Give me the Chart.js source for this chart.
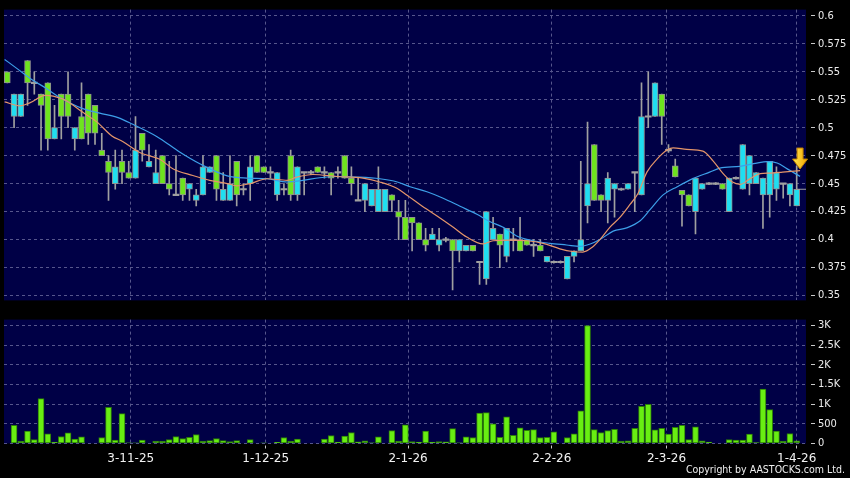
<!DOCTYPE html>
<html>
<head>
<meta charset="utf-8">
<script src="https://cdn.jsdelivr.net/npm/chart.js@4.4.1/dist/chart.umd.min.js"></script>
<style>
html, body { margin: 0; padding: 0; background: #000; }
#wrap { position: relative; width: 850px; height: 478px; background: #000; overflow: hidden; }
#price { position: absolute; left: 0; top: 0; }
#vol { position: absolute; left: 0; top: 310px; }
#copy { position: absolute; right: 5px; top: 463px; color: #eee; line-height: 14px;
        font: 10.5px "DejaVu Sans Condensed", "DejaVu Sans", sans-serif; }
</style>
</head>
<body>
<div id="wrap">
  <canvas id="price" width="850" height="310"></canvas>
  <canvas id="vol" width="850" height="168"></canvas>
  <div id="copy">Copyright by AASTOCKS.com Ltd.</div>
</div>
<script>
// daily candles (index 0 = first candle on the left)
const open = [
  .55, .51, .51, .56, .54, .53, .54, .49, .53, .53,
  .49, .51, .53, .52, .48, .47, .45, .47, .46, .455,
  .495, .465, .45, .475, .45, .44, .455, .445, .435, .44,
  .46, .475, .435, .435, .47, .445, .45, .475, .465, .46,
  .44, .445, .475, .44, .46, .46, .465, .46, .46, .46,
  .475, .455, .435, .435, .43, .425, .425, .44, .425, .42,
  .42, .415, .40, .40, .395, .40, .40, .39, .39, .395,
  .38, .365, .40, .405, .385, .40, .40, .40, .395, .395,
  .38, .38, .38, .365, .385, .39, .43, .485, .44, .435,
  .445, .445, .445, .46, .44, .51, .51, .53, .48, .466,
  .444, .44, .425, .445, .45, .45, .45, .425, .455, .445,
  .45, .45, .44, .44, .445, .45, .44, .43
];
const close = [
  .54, .53, .53, .54, .54, .52, .49, .50, .51, .51,
  .50, .49, .495, .495, .475, .46, .465, .46, .455, .48,
  .48, .47, .46, .45, .445, .44, .44, .45, .44, .465,
  .465, .445, .445, .45, .44, .445, .465, .46, .46, .46,
  .46, .445, .44, .465, .46, .46, .46, .46, .455, .46,
  .455, .45, .435, .45, .445, .445, .445, .435, .42, .40,
  .415, .40, .395, .405, .40, .40, .39, .40, .395, .39,
  .38, .425, .41, .395, .41, .40, .39, .395, .395, .39,
  .385, .38, .38, .385, .39, .40, .45, .435, .435, .455,
  .45, .445, .45, .46, .51, .51, .54, .51, .48, .456,
  .44, .43, .455, .45, .45, .45, .445, .455, .455, .485,
  .475, .46, .455, .47, .46, .45, .45, .445
];
const high = [
  .55, .53, .53, .56, .55, .53, .54, .52, .53, .55,
  .50, .54, .53, .52, .495, .475, .48, .48, .47, .51,
  .495, .485, .48, .475, .47, .475, .455, .45, .445, .475,
  .465, .475, .46, .475, .47, .45, .475, .475, .465, .465,
  .46, .45, .48, .465, .46, .462, .465, .465, .46, .465,
  .475, .465, .455, .45, .445, .465, .445, .44, .435, .435,
  .42, .415, .41, .41, .41, .402, .40, .40, .395, .395,
  .38, .425, .42, .405, .41, .41, .42, .40, .40, .40,
  .385, .381, .381, .385, .39, .47, .505, .485, .44, .46,
  .45, .446, .45, .46, .54, .55, .54, .53, .485, .472,
  .444, .44, .455, .45, .451, .451, .45, .455, .456, .485,
  .475, .46, .455, .47, .465, .45, .45, .466
];
const low = [
  .54, .50, .51, .52, .53, .48, .48, .49, .49, .50,
  .48, .49, .485, .485, .475, .435, .445, .45, .455, .455,
  .47, .465, .45, .45, .44, .44, .435, .435, .43, .44,
  .46, .435, .435, .435, .43, .44, .435, .46, .46, .455,
  .435, .44, .435, .435, .44, .458, .46, .455, .44, .455,
  .455, .44, .435, .425, .43, .425, .425, .425, .40, .40,
  .39, .40, .39, .40, .39, .398, .355, .38, .39, .39,
  .36, .36, .40, .375, .38, .39, .39, .395, .385, .39,
  .38, .379, .379, .365, .38, .39, .415, .435, .425, .415,
  .42, .444, .445, .425, .44, .50, .51, .485, .478, .456,
  .412, .43, .405, .445, .449, .449, .445, .425, .454, .445,
  .44, .45, .41, .42, .435, .437, .43, .43
];
const volume = [
  0, 465, 59, 313, 101, 1141, 245, 34, 177, 270,
  110, 169, 0, 0, 152, 921, 85, 760, 20, 15,
  85, 0, 59, 59, 101, 177, 127, 160, 228, 59,
  76, 127, 76, 51, 76, 0, 101, 0, 15, 0,
  30, 152, 59, 110, 0, 0, 0, 110, 203, 34,
  186, 279, 42, 68, 17, 169, 0, 330, 59, 473,
  51, 34, 313, 34, 51, 42, 380, 17, 169, 152,
  777, 786, 499, 160, 676, 211, 397, 338, 355, 152,
  160, 296, 0, 152, 245, 828, 3000, 355, 279, 330,
  363, 59, 68, 389, 946, 997, 346, 389, 237, 414,
  465, 101, 423, 68, 34, 0, 0, 101, 85, 85,
  237, 25, 1386, 862, 313, 59, 254, 68
];

// moving average lines
const maIdxO = [-0.4, 1.9, 3.4, 5.6, 6.8, 8.8, 11.2, 13.3, 15.5, 17.1, 19.7, 22.6, 24.6, 27.5, 30, 32.6, 34, 36,
  38.5, 41.5, 42.9, 45.3, 48.9, 52.7, 55.2, 57.8, 59.2, 61.2, 63.7, 66.1, 68.1, 70.5, 72, 74.5, 77, 79.4,
  81.9, 83.8, 85.3, 86.7, 87.9, 89.3, 90.8, 92.3, 93.5, 94.8, 96.3, 97.8, 98.7, 100.7, 103.1, 104.6, 106.1,
  107.4, 108.6, 110.1, 111.6, 113, 114.9, 117.5];
const maO = [.523, .5195, .5224, .5288, .5282, .5239, .5137, .505, .4926, .4877, .4776, .4718, .4631, .4573, .453, .4501, .4481, .4501,
  .4544, .453, .4559, .4582, .4564, .455, .4515, .4457, .4399, .4312, .4211, .411, .4023, .3962, .399, .3995, .399, .3967,
  .3918, .3894, .3889, .3932, .4005, .411, .4198, .4314, .4415, .4603, .4719, .48, .482, .4806, .4791, .4704, .4589,
  .4516, .4493, .4545, .4589, .4594, .4603, .4617];
const maIdxB = [-0.4, 1.4, 3.4, 5.8, 7.8, 11.2, 13.7, 16.4, 18.6, 22.2, 25.6, 28.6, 32.6, 35.5, 38.5, 41.5, 43.8, 46.3,
  48.9, 51.8, 55.2, 57.8, 59.7, 62.2, 64.6, 67.1, 69.6, 71.5, 73.5, 75.5, 77.9, 80.4, 82.9, 84.9, 86.4, 87.9,
  89.8, 91.8, 93.8, 95.3, 97.2, 99.3, 101.6, 104.1, 105.6, 108.6, 111.1, 112.6, 114.1, 115.6, 117.5];
const maB = [.561, .553, .544, .535, .527, .517, .513, .509, .503, .492, .478, .4675, .457, .455, .4544, .4515, .453, .4553,
  .4564, .4559, .4544, .4515, .4472, .4428, .437, .4298, .4226, .4162, .411, .4033, .399, .3967, .3952, .394, .3961, .4003,
  .4076, .4105, .4169, .427, .44, .4473, .4545, .4603, .4638, .4655, .4684, .4696, .4684, .4632, .4565];

const priceTicks = [0.35, 0.375, 0.4, 0.425, 0.45, 0.475, 0.5, 0.525, 0.55, 0.575, 0.6];
const volTicks = [0, 500, 1000, 1500, 2000, 2500, 3000];
const dateTickPos = [18.3, 38.3, 59.4, 80.7, 97.7, 117];
const dateTickText = ['3-11-25', '1-12-25', '2-1-26', '2-2-26', '2-3-26', '1-4-26'];

const NAVY = '#000046';
const GRID = '#56568c';
const UP = '#20def0';
const DOWN = '#6ee41e';
const GREY = '#a0a0a0';
const X_MIN = -0.49, X_MAX = 118.38;

const idx = open.map((_, i) => i);
const isDoji = i => open[i] === close[i];
const bodyData = idx.map(i => isDoji(i)
  ? { x: i, y: [open[i] - 0.0007, open[i] + 0.0007] }
  : { x: i, y: [open[i], close[i]] });
const bodyColor = idx.map(i => isDoji(i) ? GREY : (close[i] > open[i] ? UP : DOWN));
const bodyBorder = idx.map(i => isDoji(i) ? 0 : 1);
const wickData = idx.map(i => ({ x: i, y: [low[i], high[i]] }));
const last = idx.length - 1;

const bgPlugin = {
  id: 'bg',
  beforeDraw(c) {
    const a = c.chartArea, ctx = c.ctx;
    ctx.save();
    ctx.fillStyle = NAVY;
    ctx.fillRect(a.left, a.top, a.right - a.left, a.bottom - a.top);
    ctx.restore();
  }
};

// yellow arrow pointing at the end of the short average
const arrowPlugin = {
  id: 'arrow',
  afterDatasetsDraw(c) {
    const x = c.scales.x.getPixelForValue(maIdxO[maIdxO.length - 1]);
    const y = c.scales.y.getPixelForValue(maO[maO.length - 1]) - 1.5;
    const ctx = c.ctx;
    ctx.save();
    ctx.beginPath();
    ctx.moveTo(x, y);
    ctx.lineTo(x - 7.5, y - 10);
    ctx.lineTo(x - 3, y - 10);
    ctx.lineTo(x - 3, y - 21);
    ctx.lineTo(x + 3, y - 21);
    ctx.lineTo(x + 3, y - 10);
    ctx.lineTo(x + 7.5, y - 10);
    ctx.closePath();
    const g = ctx.createLinearGradient(x - 7, 0, x + 7, 0);
    g.addColorStop(0, '#ffe650');
    g.addColorStop(1, '#f3a600');
    ctx.fillStyle = g;
    ctx.fill();
    ctx.strokeStyle = '#c08000';
    ctx.lineWidth = 1;
    ctx.stroke();
    ctx.restore();
  }
};

const yFont = { family: '"DejaVu Sans Condensed", "DejaVu Sans", sans-serif', size: 11 };

new Chart(document.getElementById('price'), {
  type: 'bar',
  data: {
    datasets: [
      { type: 'line', data: maIdxO.map((x, i) => ({ x, y: maO[i] })), borderColor: '#e4956a', borderWidth: 1.2,
        pointRadius: 0, cubicInterpolationMode: 'monotone' },
      { type: 'line', data: maIdxB.map((x, i) => ({ x, y: maB[i] })), borderColor: '#3d9fe8', borderWidth: 1.2,
        pointRadius: 0, cubicInterpolationMode: 'monotone' },
      { type: 'line', data: [{ x: last, y: close[last] }, { x: X_MAX, y: close[last] }], borderColor: GREY,
        borderWidth: 1, pointRadius: 0 },
      { type: 'bar', data: bodyData, backgroundColor: bodyColor, borderColor: '#909090', borderWidth: bodyBorder,
        borderSkipped: false, barThickness: 6, grouped: false },
      { type: 'bar', data: wickData, backgroundColor: GREY, barThickness: 1, grouped: false }
    ]
  },
  options: {
    responsive: false,
    animation: false,
    devicePixelRatio: 1,
    layout: { padding: { left: 4, top: 6, bottom: 5, right: 0 } },
    plugins: { legend: { display: false }, tooltip: { enabled: false } },
    scales: {
      x: {
        type: 'linear', min: X_MIN, max: X_MAX, offset: false,
        afterBuildTicks: s => { s.ticks = dateTickPos.map(v => ({ value: v })); },
        ticks: { display: false },
        grid: { color: GRID, drawTicks: false, offset: false },
        border: { display: false, dash: [3, 3] },
        afterFit: s => { s.height = 0; }
      },
      y: {
        position: 'right', min: 0.3457, max: 0.6055,
        afterBuildTicks: s => { s.ticks = priceTicks.map(v => ({ value: v })); },
        ticks: { color: '#ececec', font: yFont, padding: 3, callback: (v, i) => String(priceTicks[i]) },
        grid: { color: GRID, tickLength: 9, tickColor: '#c8c8c8', tickBorderDash: [0, 5, 4, 30] },
        border: { display: false, dash: [3, 3] },
        afterFit: s => { s.width = 44; }
      }
    }
  },
  plugins: [bgPlugin, arrowPlugin]
});

new Chart(document.getElementById('vol'), {
  type: 'bar',
  data: {
    datasets: [
      { data: idx.map(i => ({ x: i, y: volume[i] })), backgroundColor: '#68ee12', borderColor: '#2c7d08',
        borderWidth: 1, borderSkipped: false, barThickness: 6 }
    ]
  },
  options: {
    responsive: false,
    animation: false,
    devicePixelRatio: 1,
    layout: { padding: { left: 4, top: 9, bottom: 0, right: 0 } },
    plugins: { legend: { display: false }, tooltip: { enabled: false } },
    scales: {
      x: {
        type: 'linear', min: X_MIN, max: X_MAX, offset: false,
        afterBuildTicks: s => { s.ticks = dateTickPos.map(v => ({ value: v })); },
        ticks: { color: '#f2f2f2', font: { family: '"DejaVu Sans", sans-serif', size: 12 }, padding: 3,
          autoSkip: false, maxRotation: 0, callback: (v, i) => dateTickText[i] },
        grid: { color: GRID, tickLength: 5, tickColor: '#c8c8c8', tickBorderDash: [0, 1.5, 3.5, 30], offset: false },
        border: { display: false, dash: [3, 3] },
        afterFit: s => { s.height = 34.5; }
      },
      y: {
        position: 'right', min: 0, max: 3152,
        afterBuildTicks: s => { s.ticks = volTicks.map(v => ({ value: v })); },
        ticks: { color: '#ececec', font: yFont, padding: 3,
          callback: (v, i) => volTicks[i] >= 1000 ? (volTicks[i] / 1000) + 'K' : String(volTicks[i]) },
        grid: { color: GRID, tickLength: 9, tickColor: '#c8c8c8', tickBorderDash: [0, 5, 4, 30] },
        border: { display: false, dash: [3, 3] },
        afterFit: s => { s.width = 44; }
      }
    }
  },
  plugins: [bgPlugin]
});
</script>
</body>
</html>
